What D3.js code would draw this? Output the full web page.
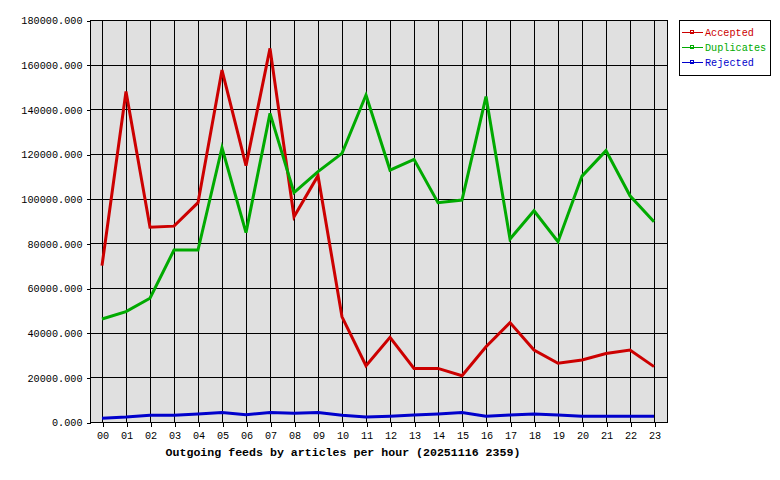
<!DOCTYPE html>
<html><head><meta charset="utf-8">
<script src="https://cdn.jsdelivr.net/npm/d3@7"></script>
<style>
body{margin:0;background:#fff;}
text{font-family:"Liberation Mono","DejaVu Sans Mono",monospace;}
</style></head>
<body><svg id="c" width="780" height="480"></svg>
<script>
const hours = ["00","01","02","03","04","05","06","07","08","09","10","11","12","13","14","15","16","17","18","19","20","21","22","23"];
const accepted = [70000,148000,87200,87700,98200,157600,114800,167300,91900,110300,47100,25200,37900,24000,24000,20700,33700,44500,32200,26300,27800,30700,32200,24800];
const duplicates = [46100,49400,55400,77000,77000,122800,84800,138200,102700,112100,120300,146400,112800,117600,98200,99400,145700,81900,94600,80700,110100,121500,101300,89700];
const rejected = [1700,2200,3000,3000,3600,4300,3300,4200,3900,4300,3000,2200,2600,3100,3600,4300,2600,3100,3600,3100,2600,2600,2600,2600];
const yTicks = [0,20000,40000,60000,80000,100000,120000,140000,160000,180000];
const seriesNames = ["Accepted","Duplicates","Rejected"];
const seriesColors = ["#cc0000","#00aa00","#0000cc"];
const title = "Outgoing feeds by articles per hour (20251116 2359)";

const svg = d3.select("#c");
const L=90, R=667, T=20, B=422;
const x = d3.scalePoint().domain(hours).range([L,R-1]).padding(0.5);
const y = d3.scaleLinear().domain([0,180000]).range([B,T]);

svg.append("rect").attr("x",L).attr("y",T).attr("width",R-L).attr("height",B-T).attr("fill","#e0e0e0");

const g = svg.append("g").attr("shape-rendering","crispEdges");
g.selectAll(".hg").data(yTicks).join("line")
  .attr("x1",L).attr("x2",R).attr("y1",d=>Math.round(y(d))+0.5).attr("y2",d=>Math.round(y(d))+0.5)
  .attr("stroke","#000");
g.selectAll(".vg").data(hours).join("line")
  .attr("y1",T).attr("y2",B).attr("x1",d=>Math.round(x(d))+0.5).attr("x2",d=>Math.round(x(d))+0.5)
  .attr("stroke","#000");
svg.append("rect").attr("x",L+0.5).attr("y",T+0.5).attr("width",R-L).attr("height",B-T)
  .attr("fill","none").attr("stroke","#000").attr("shape-rendering","crispEdges");

// axes
const ya = d3.axisLeft(y).tickValues(yTicks).tickSize(4).tickFormat(d=>d3.format(".3f")(d));
const yg = svg.append("g").attr("transform",`translate(${L+0.5},0.5)`).call(ya);
yg.select(".domain").remove();
yg.selectAll("line").attr("shape-rendering","crispEdges");
yg.selectAll("text").attr("font-size",10.2).attr("font-family","Liberation Mono, monospace").attr("fill","#000").attr("dx",-1);
const xa = d3.axisBottom(x).tickSize(4).tickPadding(5);
const xg = svg.append("g").attr("transform",`translate(0.5,${B+0.5})`).call(xa);
xg.select(".domain").remove();
xg.selectAll("line").attr("shape-rendering","crispEdges");
xg.selectAll("text").attr("font-size",10.2).attr("font-family","Liberation Mono, monospace").attr("fill","#000");

svg.append("text").attr("x",343).attr("y",456).attr("text-anchor","middle")
  .attr("font-size",11.6).attr("font-weight","bold").text(title);

const data = [accepted,duplicates,rejected];
const line = d3.line().x((d,i)=>x(hours[i])).y(d=>y(d));
data.forEach((s,k)=>{
  svg.append("path").attr("d",line(s)).attr("fill","none").attr("stroke",seriesColors[k])
    .attr("stroke-width",3).attr("stroke-linejoin","miter");
});

// legend
svg.append("rect").attr("x",679.5).attr("y",20.5).attr("width",91).attr("height",55)
  .attr("fill","#fff").attr("stroke","#000").attr("shape-rendering","crispEdges");
seriesNames.forEach((n,k)=>{
  const yy = 32 + k*15;
  svg.append("line").attr("x1",682).attr("x2",703).attr("y1",yy+0.5).attr("y2",yy+0.5)
    .attr("stroke",seriesColors[k]).attr("shape-rendering","crispEdges");
  svg.append("rect").attr("x",690.5).attr("y",yy-1.5).attr("width",3).attr("height",3)
    .attr("fill","none").attr("stroke",seriesColors[k]).attr("shape-rendering","crispEdges");
  svg.append("text").attr("x",705).attr("y",yy+4).attr("font-size",10.2).attr("fill",seriesColors[k]).text(n);
});
</script></body></html>
